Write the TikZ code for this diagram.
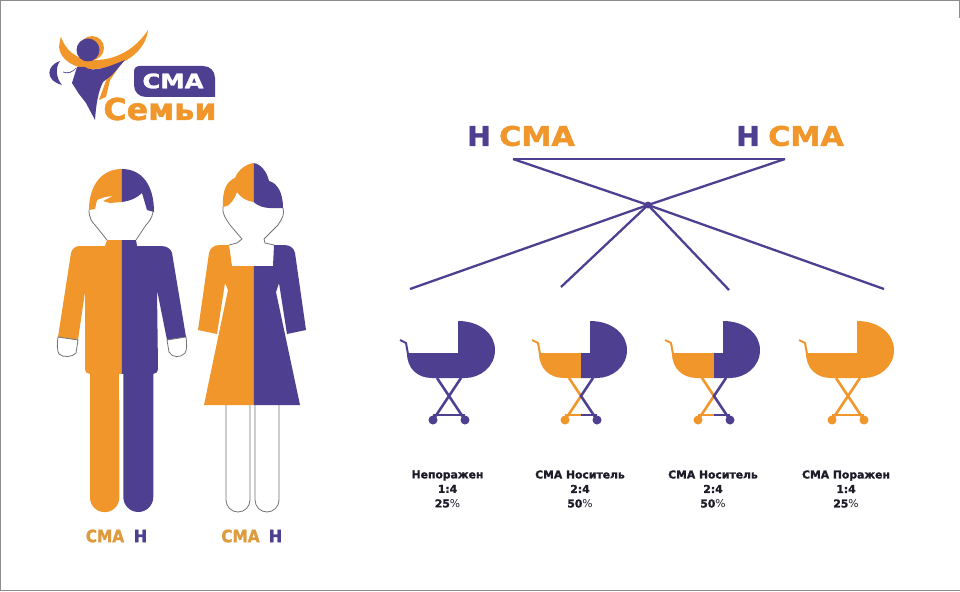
\documentclass[tikz,border=0pt]{standalone}
\usepackage{fontspec}
\setmainfont{DejaVu Sans}[BoldFeatures={FakeBold=1.4}]
\definecolor{PurpleSMA}{RGB}{79,63,145}
\definecolor{OrangeSMA}{RGB}{240,150,42}
\definecolor{LabelSMA}{RGB}{222,155,62}
\definecolor{InkSMA}{RGB}{30,28,40}
\usetikzlibrary{positioning}
\tikzset{
  genelabel/.style={inner sep=0pt, font=\fontsize{27}{27}\selectfont\bfseries},
  smalllabel/.style={inner sep=0pt, font=\fontsize{17}{17}\selectfont\bfseries},
  ratiolabel/.style={inner sep=0pt, align=center, text=InkSMA, font=\fontsize{10.8}{14.5}\selectfont\bfseries},
  crossline/.style={draw=PurpleSMA, line width=2.3pt},
  limboutline/.style={draw=black!55, line width=0.8pt, fill=white}
}
\newcommand{\pramdraw}[3]{%
  \begin{scope}[shift={(#1,321)}]
    \draw[#2, line width=2pt] (-58,19) -- (-52,22) -- (-50,33);
    \fill[#2] (-9,32) -- (-51,32) .. controls (-51,48) and (-40,57) .. (-26,57) -- (-9,57) -- cycle;
    \fill[#3] (-9,32) -- (0,32) -- (0,0) .. controls (22,0) and (37,13) .. (37,29)
      .. controls (37,46) and (22,57) .. (7,57) -- (-9,57) -- cycle;
    \draw[#2, line width=2.6pt] (-21,57) -- (-9,75) -- (-25,99);
    \draw[#3, line width=2.6pt] (3,57) -- (-9,75) -- (7,99);
    \draw[#2, line width=2pt] (-25,94) -- (-9,94);
    \draw[#3, line width=2pt] (-9,94) -- (7,94);
    \fill[#2] (-25,99) circle (4.5);
    \fill[#3] (7,99) circle (4.5);
  \end{scope}}

\begin{document}
\begin{tikzpicture}[x=1pt, y=-1pt]
  \useasboundingbox (0,0) rectangle (960,591);
  \fill[white] (0,0) rectangle (960,591);
  \draw[black!45, line width=1pt] (0,0.3) -- (960,0.3);
  \draw[black!45, line width=1pt] (0.4,0) -- (0.4,591);
  \draw[black!45, line width=1pt] (0,590.6) -- (960,590.6);
  \draw[black!45, line width=0.8pt] (959.6,0) -- (959.6,18);

  % logo
  \fill[OrangeSMA] (92,48) circle (12);
  \fill[OrangeSMA] (124,60) -- (107,78) -- (99,100) -- (106,97) -- (110,80) -- cycle;
  \fill[OrangeSMA] (60.7,36.7) .. controls (66,50) and (75,60) .. (95,60)
    .. controls (115,60) and (135,50) .. (148,30)
    .. controls (146,50) and (125,68) .. (93,69)
    .. controls (75,69) and (60,60) .. (59,47) -- cycle;
  \fill[PurpleSMA] (88,50) circle (11.5);
  \fill[PurpleSMA] (125,60) .. controls (115,64) and (108,67) .. (103,68)
    .. controls (96,70) and (88,70) .. (85,67) -- (77,67) -- (72,83) -- (79,94) -- (86,103)
    -- (95,120) .. controls (96,105) and (98,92) .. (103,82) -- (112,75) -- cycle;
  \fill[PurpleSMA] (60,61) .. controls (47,65) and (44,80) .. (62,85)
    .. controls (56,78) and (55,68) .. (60,61) -- cycle;
  \draw[PurpleSMA, line width=0.7pt] (63,72) .. controls (68,74) and (73,72) .. (76,68);
  \fill[PurpleSMA] (134,72) .. controls (134,68) and (136,66) .. (140,66) -- (203,66)
    .. controls (210,66) and (215,71) .. (215,78) -- (215,97) -- (146,97)
    .. controls (139,97) and (134,92) .. (134,85) -- cycle;
  \node[inner sep=0pt, text=white, xscale=1.22, font=\fontsize{20}{20}\selectfont\bfseries] (logoSma) at (173,81) {СМА};
  \node[inner sep=0pt, text=OrangeSMA, xscale=1.06, font=\fontsize{30}{30}\selectfont\bfseries] (logoFamily) at (160,109) {Семьи};

  % man
  \fill[OrangeSMA] (121.7,169) .. controls (102,169) and (89,185) .. (89,210) -- (95,209)
    -- (97,200) -- (105,197) -- (113,196) -- (103,201) -- (110,203) -- (121.7,202) -- cycle;
  \fill[PurpleSMA] (121.7,169) .. controls (142,169) and (154,185) .. (154,212) -- (147,210)
    -- (142,193) .. controls (137,198) and (130,201) .. (121.7,202) -- cycle;
  \draw[black!55, line width=0.8pt] (89,210) .. controls (89,218) and (92,222) .. (95,225) -- (107,240);
  \draw[black!55, line width=0.8pt] (153,212) .. controls (152,218) and (149,222) .. (146,225) -- (136,240);
  \fill[OrangeSMA] (121.7,240) -- (107,240) -- (105,246) -- (80,246) .. controls (75,246) and (72,249) .. (71,253)
    -- (58,337) -- (78,340) -- (85,292) -- (85,368) .. controls (85,372) and (87,374) .. (90,374)
    -- (121.7,374) -- cycle;
  \fill[PurpleSMA] (121.7,240) -- (136,240) -- (137,246) -- (161,246) .. controls (167,246) and (171,249) .. (172,253)
    -- (186,337) -- (167,340) -- (157,290) -- (158,368) .. controls (158,372) and (156,374) .. (153,374)
    -- (121.7,374) -- cycle;
  \fill[OrangeSMA] (90,372) -- (119.3,372) -- (119.3,497.5) arc[start angle=0, end angle=180, radius=14.65] -- cycle;
  \fill[PurpleSMA] (123.3,372) -- (153.3,372) -- (153.3,497) arc[start angle=0, end angle=180, radius=15] -- cycle;
  \fill[white] (119.3,374) rectangle (123.3,400);
  \draw[limboutline] (58,337) -- (78,340) -- (76,353) .. controls (73,357) and (63,358) .. (59,354)
    .. controls (57,350) and (57,344) .. (58,337) -- cycle;
  \draw[limboutline] (167,340) -- (186,337) .. controls (187,344) and (187,350) .. (185,353)
    .. controls (181,358) and (172,358) .. (169,352) -- cycle;

  % woman
  \draw[limboutline] (226,400) -- (226,500) arc[start angle=180, end angle=0, radius=12] -- (250,400);
  \draw[limboutline] (255,400) -- (255,500) arc[start angle=180, end angle=0, radius=12] -- (279,400);
  \fill[OrangeSMA] (253.5,266) -- (232,266) -- (229,245) -- (220,245) .. controls (214,245) and (210,248) .. (209,253)
    -- (198,330) -- (217,334) -- (225,283) -- (228,290) -- (204,405) -- (253.5,405) -- cycle;
  \fill[PurpleSMA] (253.5,266) -- (273,266) -- (274,245) -- (284,245) .. controls (290,245) and (294,248) .. (295,253)
    -- (306,330) -- (287,334) -- (279,283) -- (276,292) -- (300,405) -- (253.5,405) -- cycle;
  \fill[OrangeSMA] (253.5,163) .. controls (246,164) and (238,170) .. (235,178)
    .. controls (227,181) and (222,190) .. (223,207) .. controls (229,207) and (234,200) .. (237,192)
    .. controls (240,197) and (246,201) .. (253.5,202) -- cycle;
  \fill[PurpleSMA] (253.5,163) .. controls (261,164) and (267,172) .. (269,181)
    .. controls (277,183) and (283,192) .. (283,208) -- (270,208) .. controls (264,208) and (258,206) .. (253.5,202) -- cycle;
  \draw[black!55, line width=0.8pt] (223,207) .. controls (222,214) and (226,219) .. (230,225)
    -- (242,239) -- (237,243) -- (229,245);
  \draw[black!55, line width=0.8pt] (283,208) .. controls (285,214) and (282,219) .. (278,225)
    -- (264,239) -- (265,243) -- (274,245);

  % parents
  \node[genelabel, text=PurpleSMA, xscale=1.05] (geneLeftH) at (479,136) {Н};
  \node[genelabel, text=OrangeSMA, xscale=1.12] (geneLeftSma) at (537,136) {СМА};
  \node[genelabel, text=PurpleSMA, xscale=1.05] (geneRightH) at (748,136) {Н};
  \node[genelabel, text=OrangeSMA, xscale=1.12] (geneRightSma) at (806,136) {СМА};

  % crossing
  \coordinate (barLeft) at (513,159);
  \coordinate (barRight) at (785,159);
  \node[circle, fill=PurpleSMA, inner sep=0pt, minimum size=7pt] (crossing) at (648,205) {};
  \coordinate (childA) at (410,289);
  \coordinate (childB) at (561,287);
  \coordinate (childC) at (729,290);
  \coordinate (childD) at (884,289);
  \draw[crossline] (barLeft) -- (barRight);
  \draw[crossline] (barLeft) -- (crossing.center);
  \draw[crossline] (barRight) -- (crossing.center);
  \draw[crossline] (crossing.center) -- (childA);
  \draw[crossline] (crossing.center) -- (childB);
  \draw[crossline] (crossing.center) -- (childC);
  \draw[crossline] (crossing.center) -- (childD);

  % prams
  \pramdraw{458}{PurpleSMA}{PurpleSMA}
  \pramdraw{590}{OrangeSMA}{PurpleSMA}
  \pramdraw{723}{OrangeSMA}{PurpleSMA}
  \pramdraw{857}{OrangeSMA}{OrangeSMA}

  % captions
  \node[ratiolabel] (ratioA) at (447.5,489) {Непоражен\\1:4\\25{\mdseries\%}};
  \node[ratiolabel] (ratioB) at (580,489) {СМА Носитель\\2:4\\50{\mdseries\%}};
  \node[ratiolabel] (ratioC) at (713,489) {СМА Носитель\\2:4\\50{\mdseries\%}};
  \node[ratiolabel] (ratioD) at (846,489) {СМА Поражен\\1:4\\25{\mdseries\%}};

  \node[smalllabel, text=LabelSMA, xscale=0.9] (manSma) at (105,536) {СМА};
  \node[smalllabel, text=PurpleSMA, xscale=0.95] (manH) at (140.5,536) {Н};
  \node[smalllabel, text=LabelSMA, xscale=0.9] (womanSma) at (240.5,536) {СМА};
  \node[smalllabel, text=PurpleSMA, xscale=0.95] (womanH) at (275.5,536) {Н};
\end{tikzpicture}
\end{document}
